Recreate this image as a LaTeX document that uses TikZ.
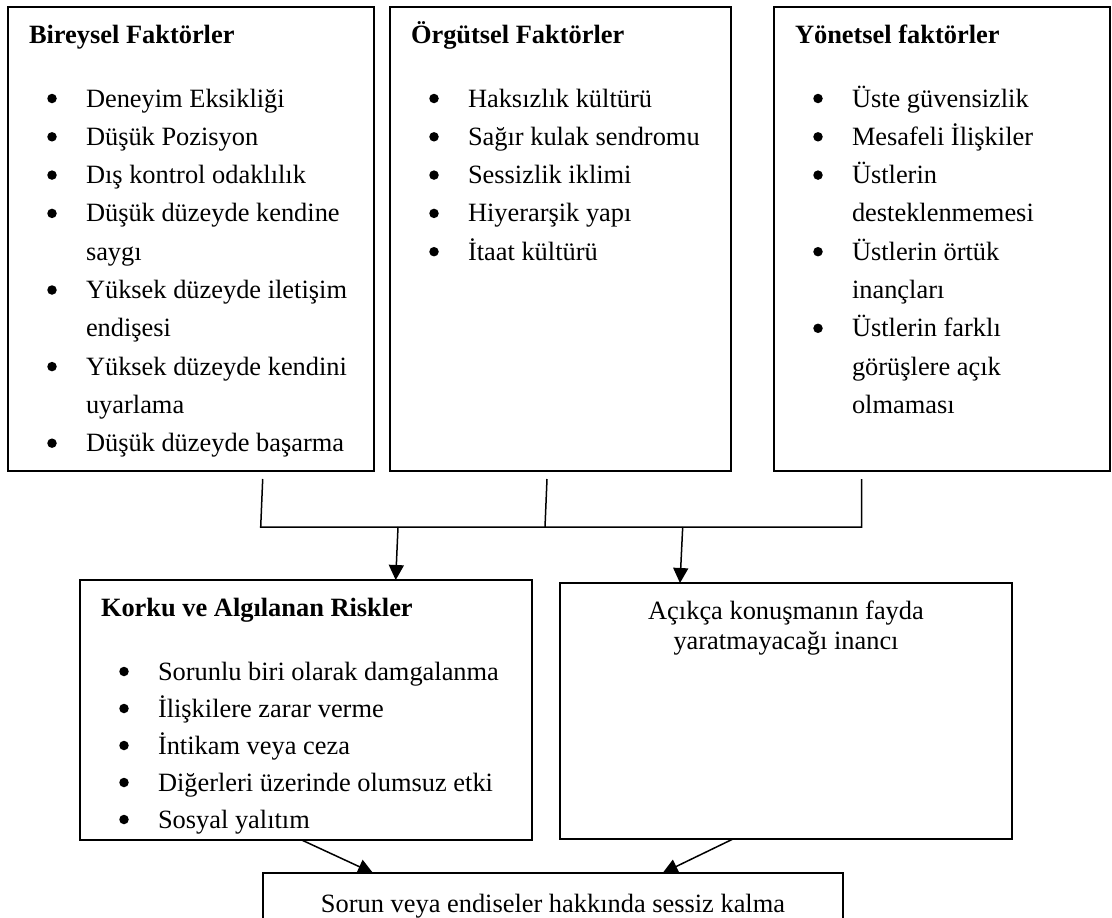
\documentclass[tikz,border=0pt]{standalone}
\usepackage{fontspec}
\setmainfont{Liberation Serif}
\usetikzlibrary{arrows.meta}
\tikzset{
  box/.style={draw, line width=2pt, inner sep=0pt, outer sep=0pt, anchor=north west},
  txt/.style={anchor=base west, inner sep=0pt, outer sep=0pt},
  ttl/.style={anchor=base west, inner sep=0pt, outer sep=0pt, font=\fontsize{26.4}{30}\selectfont\bfseries},
  ctr/.style={anchor=base, inner sep=0pt, outer sep=0pt},
  bul/.style={circle, fill, inner sep=0pt, minimum size=9.5pt},
  conn/.style={line width=1.5pt},
  arr/.style={line width=1.5pt, -{Triangle[length=15pt,width=15pt]}},
}
\newcommand\bitem[4]{\node[bul] (#1b) at (#2,#3-8.5) {}; \node[txt] (#1) at (#2+34,#3) {#4};}
\newcommand\citem[4]{\node[txt] (#1) at (#2+34,#3) {#4};}
\begin{document}
\begin{tikzpicture}[x=1pt,y=-1pt,every node/.append style={font=\fontsize{26.4}{30}\selectfont}]
\clip (0,0) rectangle (1112,918);
\fill[white] (0,0) rectangle (1112,918);
% top boxes
\node[box, minimum width=366pt, minimum height=464pt] (b1) at (8,7) {};
\node[box, minimum width=341pt, minimum height=464pt] (b2) at (390,7) {};
\node[box, minimum width=336pt, minimum height=464pt] (b3) at (774,7) {};
% middle boxes
\node[box, minimum width=452pt, minimum height=260pt] (b4) at (80,580) {};
\node[box, minimum width=452pt, minimum height=256pt] (b5) at (560,583) {};
% bottom box
\node[box, minimum width=580pt, minimum height=52pt] (b6) at (263,873) {};

% box 1 text
\node[ttl] (t1) at (29,43) {Bireysel Faktörler};
\bitem{a0}{52}{107}{Deneyim Eksikliği}
\bitem{a1}{52}{145.3}{Düşük Pozisyon}
\bitem{a2}{52}{183.6}{Dış kontrol odaklılık}
\bitem{a3}{52}{221.9}{Düşük düzeyde kendine}
\citem{a4}{52}{260.2}{saygı}
\bitem{a5}{52}{298.5}{Yüksek düzeyde iletişim}
\citem{a6}{52}{336.8}{endişesi}
\bitem{a7}{52}{375.1}{Yüksek düzeyde kendini}
\citem{a8}{52}{413.4}{uyarlama}
\bitem{a9}{52}{451.7}{Düşük düzeyde başarma}

% box 2 text
\node[ttl] (t2) at (411,43) {Örgütsel Faktörler};
\bitem{c0}{434}{107}{Haksızlık kültürü}
\bitem{c1}{434}{145.3}{Sağır kulak sendromu}
\bitem{c2}{434}{183.6}{Sessizlik iklimi}
\bitem{c3}{434}{221.9}{Hiyerarşik yapı}
\bitem{c4}{434}{260.2}{İtaat kültürü}

% box 3 text
\node[ttl] (t3) at (795,43) {Yönetsel faktörler};
\bitem{d0}{818}{107}{Üste güvensizlik}
\bitem{d1}{818}{145.3}{Mesafeli İlişkiler}
\bitem{d2}{818}{183.6}{Üstlerin}
\citem{d3}{818}{221.9}{desteklenmemesi}
\bitem{d4}{818}{260.2}{Üstlerin örtük}
\citem{d5}{818}{298.5}{inançları}
\bitem{d6}{818}{336.8}{Üstlerin farklı}
\citem{d7}{818}{375.1}{görüşlere açık}
\citem{d8}{818}{413.4}{olmaması}

% box 4 text
\node[ttl] (t4) at (101,616) {Korku ve Algılanan Riskler};
\bitem{e0}{124}{680}{Sorunlu biri olarak damgalanma}
\bitem{e1}{124}{717}{İlişkilere zarar verme}
\bitem{e2}{124}{754}{İntikam veya ceza}
\bitem{e3}{124}{791}{Diğerleri üzerinde olumsuz etki}
\bitem{e4}{124}{828}{Sosyal yalıtım}

% box 5 text
\node[ctr] (f0) at (786,619) {Açıkça konuşmanın fayda};
\node[ctr] (f1) at (786,649) {yaratmayacağı inancı};

% bottom box text
\node[ctr] (g0) at (553,912) {Sorun veya endiseler hakkında sessiz kalma};

% connectors
\coordinate (v1t) at (262.7,479);
\coordinate (v1b) at (260.7,527);
\coordinate (v2t) at (547,479);
\coordinate (v2b) at (545,527);
\coordinate (v3t) at (861.7,479);
\coordinate (v3b) at (861.7,527);
\draw[conn] (v1t) -- (v1b) -- (v3b) -- (v3t);
\draw[conn] (v2t) -- (v2b);
\coordinate (s1) at (398,527);
\coordinate (s2) at (682.7,527);
\draw[arr] (s1) -- ([xshift=315.7pt]b4.north west);
\draw[arr] (s2) -- ([xshift=120pt]b5.north west);
\draw[arr] ([xshift=221.7pt]b4.south west) -- ([xshift=110pt]b6.north west);
\draw[arr] ([xshift=173pt]b5.south west) -- ([xshift=399.7pt]b6.north west);
\end{tikzpicture}
\end{document}
